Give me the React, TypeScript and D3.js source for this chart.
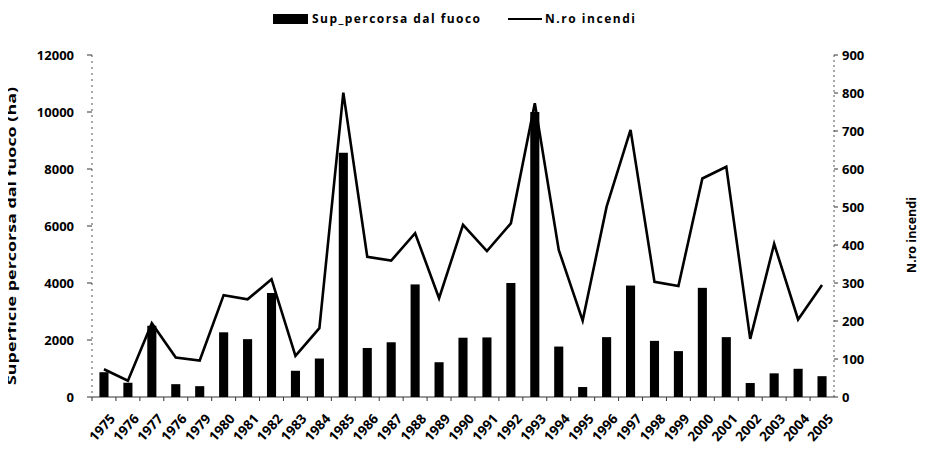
import React from "react";
import * as d3 from "d3";

const years = ["1975","1976","1977","1978","1979","1980","1981","1982","1983","1984","1985","1986","1987","1988","1989","1990","1991","1992","1993","1994","1995","1996","1997","1998","1999","2000","2001","2002","2003","2004","2005"];
const yearLabels = ["1975","1976","1977","1976","1979","1980","1981","1982","1983","1984","1985","1986","1987","1988","1989","1990","1991","1992","1993","1994","1995","1996","1997","1998","1999","2000","2001","2002","2003","2004","2005"];
const burnedArea = [870, 500, 2500, 450, 380, 2270, 2030, 3650, 920, 1350, 8570, 1720, 1920, 3950, 1220, 2080, 2090, 4000, 10000, 1770, 350, 2100, 3910, 1970, 1610, 3830, 2100, 490, 830, 990, 730];
const fireCount = [73, 43, 194, 104, 96, 268, 257, 310, 108, 181, 801, 369, 359, 431, 260, 453, 384, 457, 773, 387, 201, 501, 703, 303, 292, 575, 606, 153, 403, 204, 295];
const leftTicks = [0, 2000, 4000, 6000, 8000, 10000, 12000];
const rightTicks = [0, 100, 200, 300, 400, 500, 600, 700, 800, 900];
const legendBar = "Sup_percorsa dal fuoco";
const legendLine = "N.ro incendi";
const leftTitle = "Superficie percorsa dal fuoco (ha)";
const rightTitle = "N.ro incendi";

export default function App() {
  const W = 926, H = 452;
  const left = 92, right = 834, top = 55, bottom = 397;
  const font = "'Open Sans', sans-serif";
  const x = d3.scaleBand<string>().domain(years).range([left, right]).paddingInner(0.62).paddingOuter(0.31);
  const xb = d3.scaleBand<string>().domain(years).range([left, right]);
  const yL = d3.scaleLinear().domain([0, 12000]).range([bottom, top]);
  const yR = d3.scaleLinear().domain([0, 900]).range([bottom, top]);
  const line = d3.line<number>()
    .x((_, i) => (xb(years[i]) as number) + xb.bandwidth() / 2)
    .y((d) => yR(d));
  return (
    <div style={{ margin: -8 }}>
      <svg width={W} height={H} style={{ display: "block", background: "#fff" }} fontFamily={font}>
        {/* legend */}
        <rect x={273} y={14} width={35} height={10} fill="#000" />
        <text x={312} y={23} fontSize={12} fontWeight={700} fill="#000" textLength={168}>{legendBar}</text>
        <line x1={508} x2={542} y1={19} y2={19} stroke="#000" strokeWidth={2} />
        <text x={545} y={23} fontSize={12} fontWeight={700} fill="#000" textLength={90}>{legendLine}</text>

        {/* axes lines */}
        <line x1={left} x2={left} y1={top} y2={bottom} stroke="#555" strokeWidth={1} strokeDasharray="2,4" />
        <line x1={right} x2={right} y1={top} y2={bottom} stroke="#555" strokeWidth={1} strokeDasharray="2,3" />
        <line x1={left} x2={right} y1={bottom} y2={bottom} stroke="#333" strokeWidth={1} />
        {years.map((yv, i) => (
          <line key={"xt" + i} x1={xb(yv) as number} x2={xb(yv) as number} y1={bottom} y2={bottom + 4} stroke="#333" strokeWidth={1} />
        ))}
        {leftTicks.map((t) => (
          <g key={"l" + t}>
            <line x1={left - 5} x2={left} y1={yL(t)} y2={yL(t)} stroke="#333" strokeWidth={1} />
            <text x={74} y={yL(t) + 5} textAnchor="end" fontSize={13} fontWeight={700} fill="#000">{t}</text>
          </g>
        ))}
        {rightTicks.map((t) => (
          <g key={"r" + t}>
            <line x1={right} x2={right + 4} y1={yR(t)} y2={yR(t)} stroke="#333" strokeWidth={1} />
            <text x={842} y={yR(t) + 5} textAnchor="start" fontSize={13} fontWeight={700} fill="#000">{t}</text>
          </g>
        ))}

        {/* bars */}
        {burnedArea.map((v, i) => (
          <rect key={"b" + i} x={x(years[i]) as number} y={yL(v)} width={x.bandwidth()} height={bottom - yL(v)} fill="#000" />
        ))}
        {/* line */}
        <path d={line(fireCount) as string} fill="none" stroke="#000" strokeWidth={2.6} strokeLinejoin="miter" />

        {/* x labels */}
        {years.map((yv, i) => {
          const cx = (xb(yv) as number) + xb.bandwidth() / 2 + 5;
          const cy = 413;
          return (
            <text key={"xl" + i} transform={`translate(${cx},${cy}) rotate(-48)`} textAnchor="end" dy="0.7em" fontSize={13.5} fontWeight={700} fill="#000">{yearLabels[i]}</text>
          );
        })}

        {/* axis titles */}
        <text transform={`translate(16,236) rotate(-90)`} textAnchor="middle" fontSize={12} fontWeight={700} fill="#000" textLength={298} lengthAdjust="spacingAndGlyphs">{leftTitle}</text>
        <text transform={`translate(916,235) rotate(-90)`} textAnchor="middle" fontSize={12} fontWeight={700} fill="#000" textLength={76} lengthAdjust="spacingAndGlyphs">{rightTitle}</text>
      </svg>
    </div>
  );
}
